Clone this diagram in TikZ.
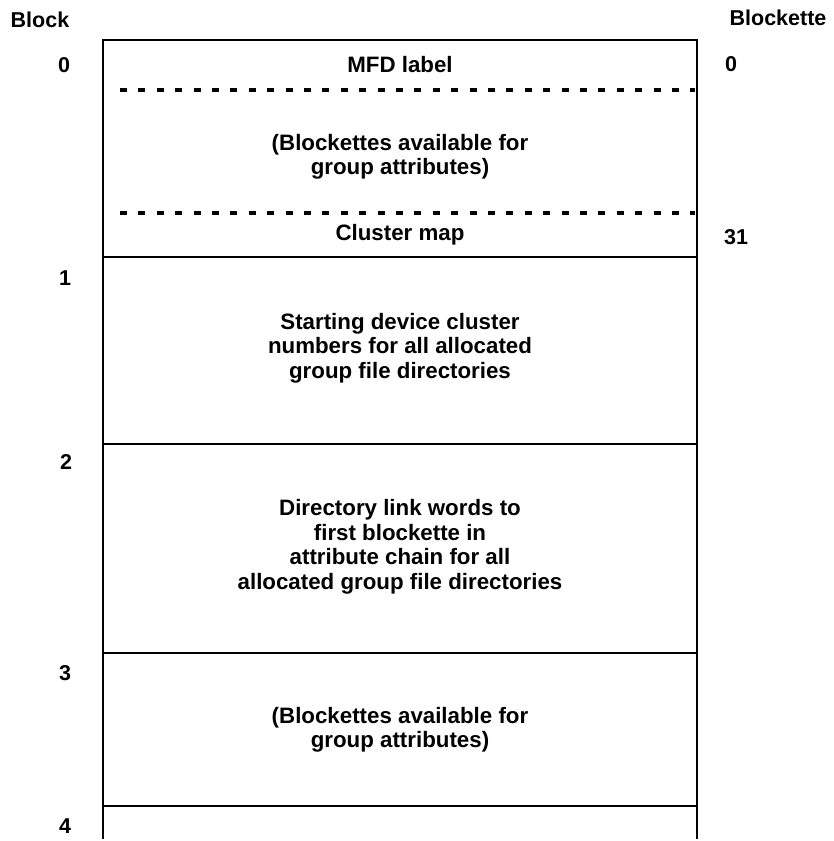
\documentclass[tikz,border=0pt]{standalone}
\usepackage{fontspec}
\setmainfont{Liberation Sans}
\begin{document}
\begin{tikzpicture}[x=1pt,y=-1pt,
  rule/.style={line width=2.3pt, line join=miter},
  dotrule/.style={line width=3.4pt, dash pattern=on 7pt off 11.4pt},
  txt/.style={inner sep=0pt, align=center, font=\bfseries\fontsize{22.3}{24.5}\selectfont},
  num/.style={inner sep=0pt, text height=15pt, text depth=0pt, font=\bfseries\fontsize{21.5}{24}\selectfont}]
\useasboundingbox (0,0) rectangle (834,841);

% frame corners and block boundaries
\coordinate (t0l) at (103,40);  \coordinate (t0r) at (697,40);
\coordinate (t1l) at (103,257); \coordinate (t1r) at (697,257);
\coordinate (t2l) at (103,444); \coordinate (t2r) at (697,444);
\coordinate (t3l) at (103,653); \coordinate (t3r) at (697,653);
\coordinate (t4l) at (103,806); \coordinate (t4r) at (697,806);
\coordinate (bl)  at (103,839); \coordinate (br)  at (697,839);
% blockette separators inside block 0
\coordinate (d1l) at (120,90);  \coordinate (d1r) at (695,90);
\coordinate (d2l) at (120,213); \coordinate (d2r) at (695,213);

\draw[rule] (bl) -- (t0l) -- (t0r) -- (br);
\draw[rule] (t1l) -- (t1r);
\draw[rule] (t2l) -- (t2r);
\draw[rule] (t3l) -- (t3r);
\draw[rule] (t4l) -- (t4r);
\draw[dotrule] (d1l) -- (d1r);
\draw[dotrule] (d2l) -- (d2r);

% column headings
\node[num] (hblock) at (40,20) {Block};
\node[num] (hblkt) at (778,18) {Blockette};

% block numbers
\node[num] (b0) at (64,65) {0};
\node[num] (b1) at (65,278) {1};
\node[num] (b2) at (66,462) {2};
\node[num] (b3) at (65,673) {3};
\node[num] (b4) at (65,826) {4};

% blockette numbers
\node[num] (k0) at (731,64) {0};
\node[num] (k31) at (736,237) {31};

% contents
\node[txt] (mfd) at (400,65) {MFD label};
\node[txt] (free0) at (400,157) {(Blockettes available for\\group attributes)};
\node[txt] (cmap) at (400,235) {Cluster map};
\node[txt] (start) at (400,348) {Starting device cluster\\numbers for all allocated\\group file directories};
\node[txt] (dlink) at (400,547) {Directory link words to\\first blockette in\\attribute chain for all\\allocated group file directories};
\node[txt] (free3) at (400,730) {(Blockettes available for\\group attributes)};
\end{tikzpicture}
\end{document}
